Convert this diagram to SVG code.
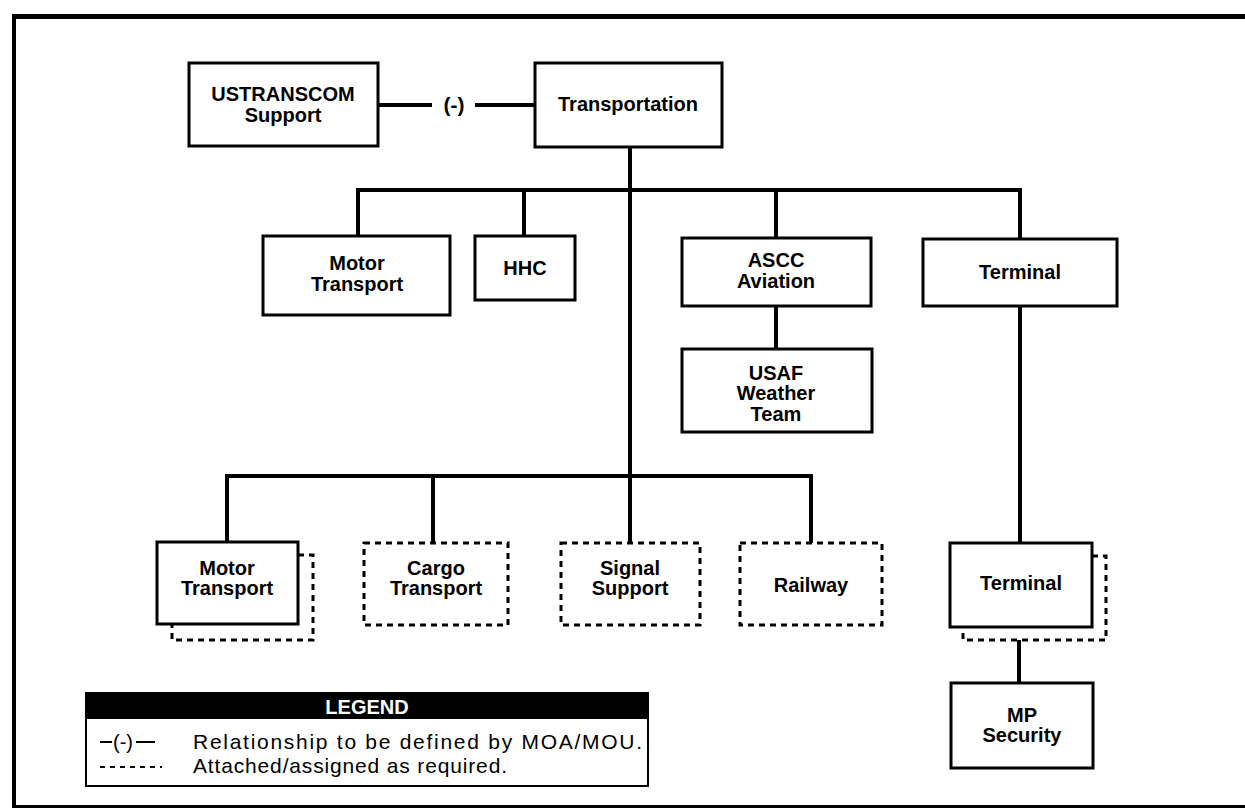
<svg xmlns="http://www.w3.org/2000/svg" width="1245" height="808" viewBox="0 0 1245 808">
<style>
.box{fill:#fff;stroke:#000;stroke-width:3}
.dbox{fill:#fff;stroke:#000;stroke-width:3;stroke-dasharray:6 5}
.dl{fill:none;stroke:#000;stroke-width:3;stroke-dasharray:6 5}
.ln{fill:none;stroke:#000;stroke-width:4}
.t{font-family:"Liberation Sans",Arial,sans-serif;font-weight:bold;font-size:20px;text-anchor:middle;fill:#000}
.lg{font-family:"Liberation Sans",Arial,sans-serif;font-size:21px;fill:#000}
</style>
<rect width="1245" height="808" fill="#fff"/>
<g id="frame">
<line x1="13" y1="16.5" x2="1245" y2="16.5" stroke="#000" stroke-width="5"/>
<line x1="14" y1="14" x2="14" y2="808" stroke="#000" stroke-width="4"/>
<line x1="12" y1="806.5" x2="1245" y2="806.5" stroke="#000" stroke-width="3"/>
</g>
<g id="connectors">
<line class="ln" x1="378" y1="105" x2="432" y2="105"/>
<text class="t" x="454" y="112" style="font-size:21px">(-)</text>
<line class="ln" x1="475" y1="105" x2="535" y2="105"/>
<line class="ln" x1="630" y1="147" x2="630" y2="543"/>
<line class="ln" x1="356" y1="190" x2="1022" y2="190"/>
<line class="ln" x1="358" y1="190" x2="358" y2="236"/>
<line class="ln" x1="524" y1="190" x2="524" y2="236"/>
<line class="ln" x1="776" y1="190" x2="776" y2="238"/>
<line class="ln" x1="1020" y1="190" x2="1020" y2="239"/>
<line class="ln" x1="776" y1="306" x2="776" y2="349"/>
<line class="ln" x1="1020" y1="306" x2="1020" y2="543"/>
<line class="ln" x1="225" y1="476" x2="813" y2="476"/>
<line class="ln" x1="227" y1="476" x2="227" y2="542"/>
<line class="ln" x1="433" y1="476" x2="433" y2="543"/>
<line class="ln" x1="811" y1="476" x2="811" y2="543"/>
<line class="ln" x1="1019" y1="640" x2="1019" y2="683"/>
</g>
<g id="ustranscom">
<rect class="box" x="189" y="63" width="189" height="83"/>
<text class="t" x="283" y="101">USTRANSCOM</text>
<text class="t" x="283" y="122">Support</text>
</g>
<g id="transportation">
<rect class="box" x="535" y="63" width="187" height="84"/>
<text class="t" x="628" y="111">Transportation</text>
</g>
<g id="motor-transport-1">
<rect class="box" x="263" y="236" width="187" height="79"/>
<text class="t" x="357" y="270">Motor</text>
<text class="t" x="357" y="291">Transport</text>
</g>
<g id="hhc">
<rect class="box" x="475" y="236" width="100" height="64"/>
<text class="t" x="525" y="275">HHC</text>
</g>
<g id="ascc-aviation">
<rect class="box" x="682" y="238" width="189" height="68"/>
<text class="t" x="776" y="267">ASCC</text>
<text class="t" x="776" y="288">Aviation</text>
</g>
<g id="terminal-1">
<rect class="box" x="923" y="239" width="194" height="67"/>
<text class="t" x="1020" y="279">Terminal</text>
</g>
<g id="usaf-weather">
<rect class="box" x="682" y="349" width="190" height="83"/>
<text class="t" x="776" y="380">USAF</text>
<text class="t" x="776" y="400">Weather</text>
<text class="t" x="776" y="421">Team</text>
</g>
<g id="motor-transport-2">
<polyline class="dl" points="298,555 313,555 313,640 172,640 172,624"/>
<rect class="box" x="157" y="542" width="141" height="82"/>
<text class="t" x="227" y="575">Motor</text>
<text class="t" x="227" y="595">Transport</text>
</g>
<g id="cargo-transport">
<rect class="dbox" x="364" y="543" width="144" height="82"/>
<text class="t" x="436" y="575">Cargo</text>
<text class="t" x="436" y="595">Transport</text>
</g>
<g id="signal-support">
<rect class="dbox" x="561" y="543" width="139" height="82"/>
<text class="t" x="630" y="575">Signal</text>
<text class="t" x="630" y="595">Support</text>
</g>
<g id="railway">
<rect class="dbox" x="740" y="543" width="142" height="82"/>
<text class="t" x="811" y="592">Railway</text>
</g>
<g id="terminal-2">
<polyline class="dl" points="1092,556 1106,556 1106,640 963,640 963,627"/>
<rect class="box" x="950" y="543" width="142" height="84"/>
<text class="t" x="1021" y="590">Terminal</text>
</g>
<g id="mp-security">
<rect class="box" x="951" y="683" width="142" height="85"/>
<text class="t" x="1022" y="722">MP</text>
<text class="t" x="1022" y="742">Security</text>
</g>
<g id="legend">
<rect x="86" y="693" width="562" height="93" fill="#fff" stroke="#000" stroke-width="2"/>
<rect x="86" y="693" width="562" height="26" fill="#000"/>
<text class="t" x="367" y="714" style="fill:#fff">LEGEND</text>
<line x1="100" y1="742" x2="112" y2="742" stroke="#000" stroke-width="2"/>
<text class="lg" x="113" y="749" style="font-size:20px">(-)</text>
<line x1="136" y1="742" x2="155" y2="742" stroke="#000" stroke-width="2"/>
<line x1="100" y1="767" x2="162" y2="767" stroke="#000" stroke-width="2" stroke-dasharray="5 5"/>
<text class="lg" x="193" y="749" textLength="449" lengthAdjust="spacing">Relationship to be defined by MOA/MOU.</text>
<text class="lg" x="193" y="773" textLength="314" lengthAdjust="spacing">Attached/assigned as required.</text>
</g>
</svg>
